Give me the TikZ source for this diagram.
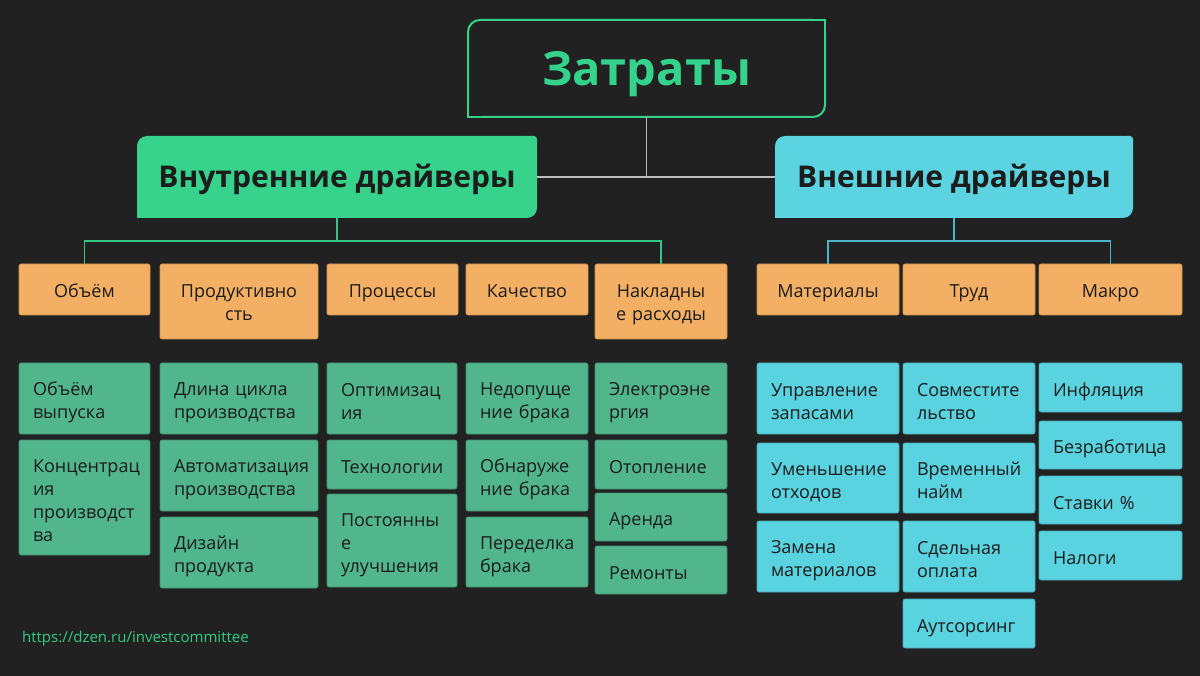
\documentclass[tikz,border=0pt]{standalone}
\usepackage{fontspec}
\setmainfont{Open Sans}
\usepackage{tikz}
\usetikzlibrary{positioning}
\definecolor{bgdark}{HTML}{212121}
\definecolor{titlegreen}{HTML}{34D28B}
\definecolor{drvgreen}{HTML}{37D38C}
\definecolor{drvcyan}{HTML}{5BD3E0}
\definecolor{grpor}{HTML}{F3AF63}
\definecolor{leafgr}{HTML}{51B58D}
\definecolor{leafcy}{HTML}{5AD3E0}
\definecolor{inkdark}{HTML}{1C1C1C}
\definecolor{linegray}{HTML}{BDBDBD}
\definecolor{linegreen}{HTML}{35C587}
\definecolor{linecyan}{HTML}{4AB6C6}
\definecolor{urlgreen}{HTML}{2ECC85}
\newcommand{\leaffont}{\fontsize{18}{23}\selectfont}
\newcommand{\leafstrut}{\rule[-4pt]{0pt}{26pt}}
\newcommand{\grpstrut}{\rule[-4pt]{0pt}{24pt}}
\newcommand{\lastdepth}{\rule[-4pt]{0pt}{4pt}}
\tikzset{
  ttl/.style  ={rectangle, rounded corners=12pt, draw=titlegreen, line width=2pt,
                fill=bgdark, minimum width=357pt, minimum height=97pt, outer sep=0pt,
                text height=40pt, text depth=5pt,
                text=titlegreen, font=\fontsize{47}{50}\selectfont\bfseries},
  drv/.style  ={rectangle, rounded corners=10pt, fill=#1, minimum width=400pt,
                minimum height=82pt, outer sep=0pt, text=inkdark,
                text height=24pt, text depth=2.5pt,
                font=\fontsize{30}{34}\selectfont\bfseries},
  grp/.style  ={rectangle, rounded corners=2pt, draw=grpor!85!black, line width=0.6pt,
                fill=grpor, anchor=north west, outer sep=0pt, inner sep=0pt,
                minimum width=#1, minimum height=51pt, align=center,
                execute at begin node=\grpstrut, execute at end node=\lastdepth,
                text=inkdark, font=\leaffont},
  grptall/.style={grp=#1, text width=#1, minimum height=75pt},
  leafg/.style={rectangle, rounded corners=2pt, draw=leafgr!80!black, line width=0.6pt,
                fill=leafgr, anchor=north west, outer sep=0pt, inner xsep=14pt,
                inner ysep=0pt, text width=#1, align=left, text=inkdark, font=\leaffont,
                execute at begin node=\leafstrut, execute at end node=\lastdepth},
  leafc/.style={rectangle, rounded corners=2pt, draw=leafcy!80!black, line width=0.6pt,
                fill=leafcy, anchor=north west, outer sep=0pt, inner xsep=14pt,
                inner ysep=0pt, text width=#1, align=left, text=inkdark, font=\leaffont,
                execute at begin node=\leafstrut, execute at end node=\lastdepth},
  bus/.style  ={line width=1.3pt, draw=#1}
}
\begin{document}
\begin{tikzpicture}[x=1pt, y=-1pt]
\fill[bgdark] (0,0) rectangle (1200,676);
\useasboundingbox (0,0) rectangle (1200,676);

% top
\node[ttl] (title) at (646.5,68.5) {Затраты};
\fill[bgdark] (title.north east) rectangle ++(-14,14);
\fill[bgdark] (title.south west) rectangle ++(14,-14);
\draw[titlegreen, line width=2pt] ([xshift=-16pt]title.north east) -- (title.north east) -- ([yshift=-16pt]title.north east);
\draw[titlegreen, line width=2pt] ([yshift=16pt]title.south west) -- (title.south west) -- ([xshift=16pt]title.south west);

\node[drv=drvgreen] (intdrv) at (337,177) {Внутренние драйверы};
\fill[drvgreen] (intdrv.south west) rectangle ++(12,-12);
\fill[drvgreen, rounded corners=3pt] (intdrv.north east) rectangle ++(-12,12);
\node[drv=drvcyan, minimum width=358pt] (extdrv) at (954,177) {Внешние драйверы};
\fill[drvcyan] (extdrv.south west) rectangle ++(12,-12);
\fill[drvcyan, rounded corners=3pt] (extdrv.north east) rectangle ++(-12,12);

\draw[bus=linegray] (title.south) -- (title.south |- intdrv.east);
\draw[bus=linegray] (intdrv.east) -- (extdrv.west);

% groups
\node[grp=131pt] (volume) at (19,264) {Объём};
\node[grptall=158pt] (product) at (160,264) {Продуктивно\\сть};
\node[grp=131pt] (process) at (327,264) {Процессы};
\node[grp=122pt] (quality) at (466,264) {Качество};
\node[grptall=132pt] (overhead) at (595,264) {Накладны\\е расходы};
\node[grp=142pt] (material) at (757,264) {Материалы};
\node[grp=132pt] (labour) at (903,264) {Труд};
\node[grp=143pt] (macro) at (1039,264) {Макро};

\coordinate (intbus) at (337,241);
\coordinate (extbus) at (954,241);
\draw[bus=linegreen] (intdrv.south) -- (intbus);
\draw[bus=linegreen] (volume.north) |- (intbus) -| (overhead.north);
\draw[bus=linecyan] (extdrv.south) -- (extbus);
\draw[bus=linecyan] (material.north) |- (extbus) -| (macro.north);

% internal drivers
\node[leafg=103pt, minimum height=71pt] (vol1) at (19,363) {Объём\\выпуска};
\node[leafg=103pt, minimum height=115pt] (vol2) at (19,440) {Концентрац\\ия\\производст\\ва};
\node[leafg=130pt, minimum height=71pt] (prod1) at (160,363) {Длина цикла\\производства};
\node[leafg=130pt, minimum height=71pt] (prod2) at (160,440) {Автоматизация\\производства};
\node[leafg=130pt, minimum height=71pt] (prod3) at (160,517) {Дизайн\\продукта};
\node[leafg=102pt, minimum height=71pt] (proc1) at (327,363) {Оптимизац\\ия};
\node[leafg=102pt, minimum height=49pt] (proc2) at (327,440) {Технологии};
\node[leafg=102pt, minimum height=93pt] (proc3) at (327,494) {Постоянны\\е\\улучшения};
\node[leafg=94pt, minimum height=71pt] (qual1) at (466,363) {Недопуще\\ние брака};
\node[leafg=94pt, minimum height=71pt] (qual2) at (466,440) {Обнаруже\\ние брака};
\node[leafg=94pt, minimum height=70pt] (qual3) at (466,517) {Переделка\\брака};
\node[leafg=104pt, minimum height=71pt] (over1) at (595,363) {Электроэне\\ргия};
\node[leafg=104pt, minimum height=49pt] (over2) at (595,440) {Отопление};
\node[leafg=104pt, minimum height=48pt] (over3) at (595,493) {Аренда};
\node[leafg=104pt, minimum height=48pt] (over4) at (595,546) {Ремонты};

% external drivers
\node[leafc=114pt, minimum height=71pt] (mat1) at (757,363) {Управление\\запасами};
\node[leafc=114pt, minimum height=70pt] (mat2) at (757,443) {Уменьшение\\отходов};
\node[leafc=114pt, minimum height=71pt] (mat3) at (757,521) {Замена\\материалов};
\node[leafc=104pt, minimum height=71pt] (lab1) at (903,363) {Совместите\\льство};
\node[leafc=104pt, minimum height=70pt] (lab2) at (903,443) {Временный\\найм};
\node[leafc=104pt, minimum height=71pt] (lab3) at (903,521) {Сдельная\\оплата};
\node[leafc=104pt, minimum height=49pt] (lab4) at (903,599) {Аутсорсинг};
\node[leafc=115pt, minimum height=49pt] (mac1) at (1039,363) {Инфляция};
\node[leafc=115pt, minimum height=48pt] (mac2) at (1039,421) {Безработица};
\node[leafc=115pt, minimum height=48pt] (mac3) at (1039,476) {Ставки \%};
\node[leafc=115pt, minimum height=49pt] (mac4) at (1039,531) {Налоги};

\node[anchor=west, inner sep=0pt, text=urlgreen, font=\fontsize{15}{18}\selectfont] (url) at (22,639) {https://dzen.ru/investcommittee};
\end{tikzpicture}
\end{document}
